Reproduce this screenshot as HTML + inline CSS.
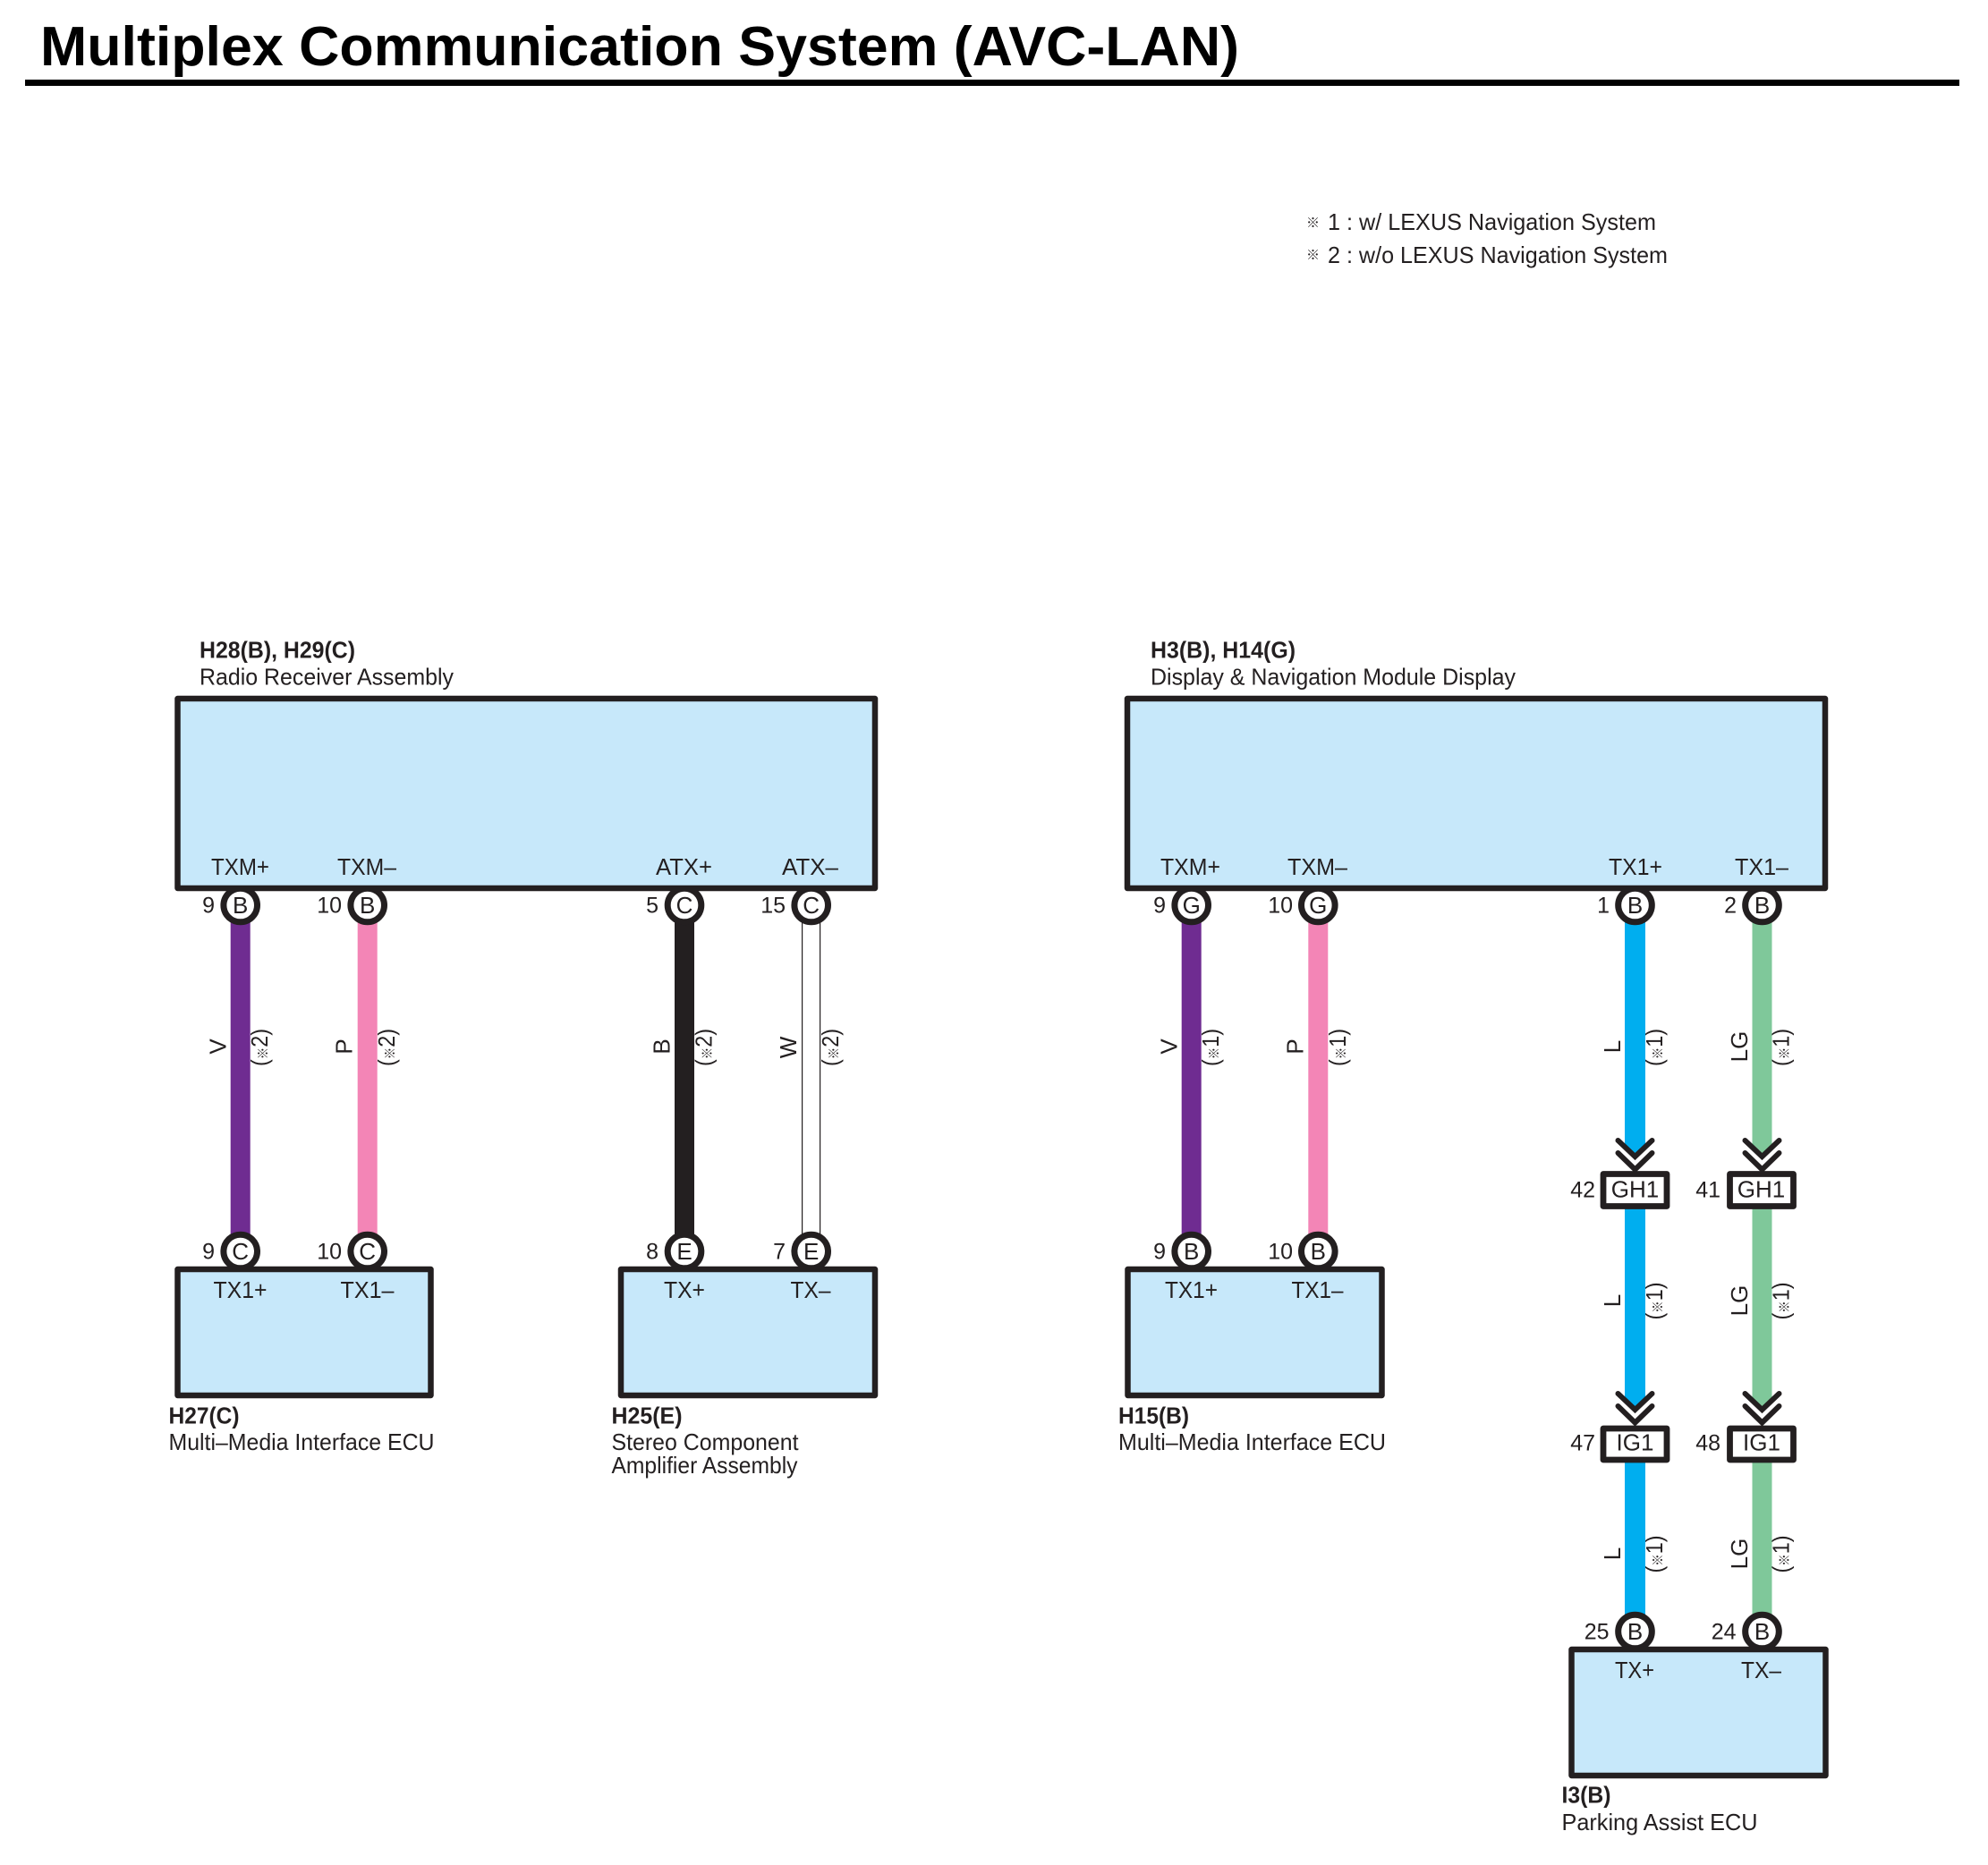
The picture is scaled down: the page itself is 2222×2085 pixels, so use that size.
<!DOCTYPE html>
<html><head><meta charset="utf-8"><title>Multiplex Communication System (AVC-LAN)</title>
<style>
html,body{margin:0;padding:0;background:#fff;width:2222px;height:2085px;overflow:hidden}
svg{display:block}
text{font-family:"Liberation Sans","Noto Sans CJK JP",sans-serif;fill:#231f20;font-size:26px}
.b{font-weight:bold}
.n{font-size:25px;text-anchor:end}
.c{text-anchor:middle}
.k{fill:#c7e8fa;stroke:#231f20;stroke-width:6.5;stroke-linejoin:round}
.w{fill:#fff;stroke:#231f20;stroke-width:6.8;stroke-linejoin:round}
.p{fill:#fff;stroke:#231f20;stroke-width:7}
.v{fill:none;stroke:#231f20;stroke-width:6;stroke-linecap:round;stroke-linejoin:miter}
.s{font-size:15px;font-weight:bold}
</style></head><body>
<svg width="2222" height="2085" viewBox="0 0 2222 2085" xmlns="http://www.w3.org/2000/svg">
<rect width="2222" height="2085" fill="#fff"/>

<!-- title -->
<text class="b" x="45" y="73" style="font-size:62px;fill:#000" textLength="1340" lengthAdjust="spacingAndGlyphs">Multiplex Communication System (AVC-LAN)</text>
<rect x="28" y="89" width="2162" height="7" fill="#000"/>

<!-- legend -->
<text class="s" x="1460" y="254">※</text>
<text x="1484" y="257" textLength="367" lengthAdjust="spacingAndGlyphs">1 : w/ LEXUS Navigation System</text>
<text class="s" x="1460" y="290">※</text>
<text x="1484" y="294" textLength="380" lengthAdjust="spacingAndGlyphs">2 : w/o LEXUS Navigation System</text>

<!-- wires -->
<rect x="257.7" y="1028" width="22" height="360" fill="#6f2c91"/>
<rect x="399.7" y="1028" width="22" height="360" fill="#f385b6"/>
<rect x="754" y="1028" width="22" height="360" fill="#231f20"/>
<rect x="896" y="1030" width="1.2" height="355" fill="#231f20"/>
<rect x="916" y="1030" width="1.2" height="355" fill="#231f20"/>
<rect x="1320.7" y="1028" width="22" height="360" fill="#6f2c91"/>
<rect x="1462.3" y="1028" width="22" height="360" fill="#f385b6"/>

<polygon points="1816,1030 1839,1030 1839,1279 1827.5,1292 1816,1279" fill="#00aeef"/>
<polygon points="1816,1350 1839,1350 1839,1562 1827.5,1575 1816,1562" fill="#00aeef"/>
<rect x="1816" y="1633" width="23" height="180" fill="#00aeef"/>
<polygon points="1958.5,1030 1980.5,1030 1980.5,1279 1969.5,1292 1958.5,1279" fill="#7fc89a"/>
<polygon points="1958.5,1350 1980.5,1350 1980.5,1562 1969.5,1575 1958.5,1562" fill="#7fc89a"/>
<rect x="1958.5" y="1633" width="22" height="180" fill="#7fc89a"/>

<!-- pin circles -->
<circle class="p" cx="268.7" cy="1012" r="18.8"/><circle class="p" cx="410.7" cy="1012" r="18.8"/>
<circle class="p" cx="765" cy="1012" r="18.8"/><circle class="p" cx="906.7" cy="1012" r="18.8"/>
<circle class="p" cx="1331.7" cy="1012" r="18.8"/><circle class="p" cx="1473.3" cy="1012" r="18.8"/>
<circle class="p" cx="1827.5" cy="1012" r="18.8"/><circle class="p" cx="1969.5" cy="1012" r="18.8"/>
<circle class="p" cx="268.7" cy="1399" r="18.8"/><circle class="p" cx="410.7" cy="1399" r="18.8"/>
<circle class="p" cx="765" cy="1399" r="18.8"/><circle class="p" cx="906.7" cy="1399" r="18.8"/>
<circle class="p" cx="1331.7" cy="1399" r="18.8"/><circle class="p" cx="1473.3" cy="1399" r="18.8"/>
<circle class="p" cx="1827.5" cy="1824" r="18.8"/><circle class="p" cx="1969.5" cy="1824" r="18.8"/>

<!-- component boxes -->
<rect class="k" x="198.5" y="781" width="779.5" height="212"/>
<rect class="k" x="1260" y="781" width="780" height="212"/>
<rect class="k" x="198.5" y="1419" width="283" height="141"/>
<rect class="k" x="694" y="1419" width="284" height="141"/>
<rect class="k" x="1260.5" y="1419" width="284" height="141"/>
<rect class="k" x="1756.5" y="1844" width="284" height="141"/>

<!-- chevrons -->
<path class="v" d="M1808.5,1275 L1827.5,1293 L1846.5,1275 M1808.5,1289 L1827.5,1307.5 L1846.5,1289"/>
<path class="v" d="M1950.5,1275 L1969.5,1293 L1988.5,1275 M1950.5,1289 L1969.5,1307.5 L1988.5,1289"/>
<path class="v" d="M1808.5,1558 L1827.5,1576 L1846.5,1558 M1808.5,1572 L1827.5,1590.5 L1846.5,1572"/>
<path class="v" d="M1950.5,1558 L1969.5,1576 L1988.5,1558 M1950.5,1572 L1969.5,1590.5 L1988.5,1572"/>

<!-- inline connector boxes -->
<rect class="w" x="1792" y="1312.5" width="71" height="36"/>
<rect class="w" x="1933.5" y="1312.5" width="71" height="36"/>
<rect class="w" x="1792" y="1597" width="71" height="35"/>
<rect class="w" x="1933.5" y="1597" width="71" height="35"/>
<text class="c" x="1827.5" y="1338.5">GH1</text>
<text class="c" x="1968.5" y="1338.5">GH1</text>
<text class="c" x="1827.5" y="1621.5">IG1</text>
<text class="c" x="1969" y="1621.5">IG1</text>
<text class="n" x="1783" y="1338.5">42</text>
<text class="n" x="1923" y="1338.5">41</text>
<text class="n" x="1783" y="1621.5">47</text>
<text class="n" x="1923" y="1621.5">48</text>

<!-- pin letters -->
<text class="c" x="268.7" y="1021">B</text><text class="c" x="410.7" y="1021">B</text>
<text class="c" x="765" y="1021">C</text><text class="c" x="906.7" y="1021">C</text>
<text class="c" x="1331.7" y="1021">G</text><text class="c" x="1473.3" y="1021">G</text>
<text class="c" x="1827.5" y="1021">B</text><text class="c" x="1969.5" y="1021">B</text>
<text class="c" x="268.7" y="1408">C</text><text class="c" x="410.7" y="1408">C</text>
<text class="c" x="765" y="1408">E</text><text class="c" x="906.7" y="1408">E</text>
<text class="c" x="1331.7" y="1408">B</text><text class="c" x="1473.3" y="1408">B</text>
<text class="c" x="1827.5" y="1833">B</text><text class="c" x="1969.5" y="1833">B</text>

<!-- pin numbers -->
<text class="n" x="240" y="1020.5">9</text><text class="n" x="382" y="1020.5">10</text>
<text class="n" x="736" y="1020.5">5</text><text class="n" x="878" y="1020.5">15</text>
<text class="n" x="1303" y="1020.5">9</text><text class="n" x="1445" y="1020.5">10</text>
<text class="n" x="1799" y="1020.5">1</text><text class="n" x="1941" y="1020.5">2</text>
<text class="n" x="240" y="1407.5">9</text><text class="n" x="382" y="1407.5">10</text>
<text class="n" x="736" y="1407.5">8</text><text class="n" x="878" y="1407.5">7</text>
<text class="n" x="1303" y="1407.5">9</text><text class="n" x="1445" y="1407.5">10</text>
<text class="n" x="1798.5" y="1832.5">25</text><text class="n" x="1940.5" y="1832.5">24</text>

<!-- terminal names -->
<text x="236" y="978" textLength="65" lengthAdjust="spacingAndGlyphs">TXM+</text>
<text x="377" y="978" textLength="66" lengthAdjust="spacingAndGlyphs">TXM–</text>
<text x="733" y="978" textLength="63" lengthAdjust="spacingAndGlyphs">ATX+</text>
<text x="874" y="978" textLength="63" lengthAdjust="spacingAndGlyphs">ATX–</text>
<text x="1297" y="978" textLength="67" lengthAdjust="spacingAndGlyphs">TXM+</text>
<text x="1439" y="978" textLength="67" lengthAdjust="spacingAndGlyphs">TXM–</text>
<text x="1798" y="978" textLength="60" lengthAdjust="spacingAndGlyphs">TX1+</text>
<text x="1939" y="978" textLength="60" lengthAdjust="spacingAndGlyphs">TX1–</text>
<text x="238.5" y="1451" textLength="60" lengthAdjust="spacingAndGlyphs">TX1+</text>
<text x="380.5" y="1451" textLength="60" lengthAdjust="spacingAndGlyphs">TX1–</text>
<text x="742" y="1451" textLength="46" lengthAdjust="spacingAndGlyphs">TX+</text>
<text x="883.5" y="1451" textLength="45" lengthAdjust="spacingAndGlyphs">TX–</text>
<text x="1302" y="1451" textLength="59" lengthAdjust="spacingAndGlyphs">TX1+</text>
<text x="1443.5" y="1451" textLength="58" lengthAdjust="spacingAndGlyphs">TX1–</text>
<text x="1805" y="1876" textLength="44" lengthAdjust="spacingAndGlyphs">TX+</text>
<text x="1946" y="1876" textLength="45" lengthAdjust="spacingAndGlyphs">TX–</text>

<!-- component labels -->
<text class="b" x="223" y="735.5" textLength="174" lengthAdjust="spacingAndGlyphs">H28(B), H29(C)</text>
<text x="223" y="765.5" textLength="284" lengthAdjust="spacingAndGlyphs">Radio Receiver Assembly</text>
<text class="b" x="1286" y="735.5" textLength="162" lengthAdjust="spacingAndGlyphs">H3(B), H14(G)</text>
<text x="1286" y="765.5" textLength="408" lengthAdjust="spacingAndGlyphs">Display &amp; Navigation Module Display</text>
<text class="b" x="188.5" y="1591.5" textLength="79" lengthAdjust="spacingAndGlyphs">H27(C)</text>
<text x="188.5" y="1621" textLength="297" lengthAdjust="spacingAndGlyphs">Multi–Media Interface ECU</text>
<text class="b" x="683.5" y="1591.5" textLength="79" lengthAdjust="spacingAndGlyphs">H25(E)</text>
<text x="683.5" y="1621" textLength="209" lengthAdjust="spacingAndGlyphs">Stereo Component</text>
<text x="683.5" y="1647" textLength="208" lengthAdjust="spacingAndGlyphs">Amplifier Assembly</text>
<text class="b" x="1250" y="1591.5" textLength="79" lengthAdjust="spacingAndGlyphs">H15(B)</text>
<text x="1250" y="1621" textLength="299" lengthAdjust="spacingAndGlyphs">Multi–Media Interface ECU</text>
<text class="b" x="1745.5" y="2015.5" textLength="55" lengthAdjust="spacingAndGlyphs">I3(B)</text>
<text x="1745.5" y="2046" textLength="219" lengthAdjust="spacingAndGlyphs">Parking Assist ECU</text>

<!-- wire colour labels -->
<text class="c" transform="translate(252.7,1170) rotate(-90)">V</text>
<text class="c" transform="translate(393.5,1170) rotate(-90)">P</text>
<text class="c" transform="translate(748.5,1170) rotate(-90)">B</text>
<text class="c" transform="translate(890,1171) rotate(-90)">W</text>
<text class="c" transform="translate(1315.7,1170) rotate(-90)">V</text>
<text class="c" transform="translate(1456.3,1170) rotate(-90)">P</text>
<text class="c" transform="translate(1811,1170) rotate(-90)">L</text>
<text class="c" transform="translate(1953,1170) rotate(-90)">LG</text>
<text class="c" transform="translate(1811,1454) rotate(-90)">L</text>
<text class="c" transform="translate(1953,1454) rotate(-90)">LG</text>
<text class="c" transform="translate(1811,1737) rotate(-90)">L</text>
<text class="c" transform="translate(1953,1737) rotate(-90)">LG</text>

<!-- option labels -->
<text class="c" transform="translate(299.2,1171) rotate(-90)" textLength="42" lengthAdjust="spacingAndGlyphs">(<tspan class="s">※</tspan>2)</text>
<text class="c" transform="translate(441.2,1171) rotate(-90)" textLength="42" lengthAdjust="spacingAndGlyphs">(<tspan class="s">※</tspan>2)</text>
<text class="c" transform="translate(795.5,1171) rotate(-90)" textLength="42" lengthAdjust="spacingAndGlyphs">(<tspan class="s">※</tspan>2)</text>
<text class="c" transform="translate(937.2,1171) rotate(-90)" textLength="42" lengthAdjust="spacingAndGlyphs">(<tspan class="s">※</tspan>2)</text>
<text class="c" transform="translate(1362.2,1171) rotate(-90)" textLength="42" lengthAdjust="spacingAndGlyphs">(<tspan class="s">※</tspan>1)</text>
<text class="c" transform="translate(1503.8,1171) rotate(-90)" textLength="42" lengthAdjust="spacingAndGlyphs">(<tspan class="s">※</tspan>1)</text>
<text class="c" transform="translate(1858,1171) rotate(-90)" textLength="42" lengthAdjust="spacingAndGlyphs">(<tspan class="s">※</tspan>1)</text>
<text class="c" transform="translate(1999.5,1171) rotate(-90)" textLength="42" lengthAdjust="spacingAndGlyphs">(<tspan class="s">※</tspan>1)</text>
<text class="c" transform="translate(1858,1454.5) rotate(-90)" textLength="42" lengthAdjust="spacingAndGlyphs">(<tspan class="s">※</tspan>1)</text>
<text class="c" transform="translate(1999.5,1454.5) rotate(-90)" textLength="42" lengthAdjust="spacingAndGlyphs">(<tspan class="s">※</tspan>1)</text>
<text class="c" transform="translate(1858,1737.5) rotate(-90)" textLength="42" lengthAdjust="spacingAndGlyphs">(<tspan class="s">※</tspan>1)</text>
<text class="c" transform="translate(1999.5,1737.5) rotate(-90)" textLength="42" lengthAdjust="spacingAndGlyphs">(<tspan class="s">※</tspan>1)</text>
</svg>
</body></html>
